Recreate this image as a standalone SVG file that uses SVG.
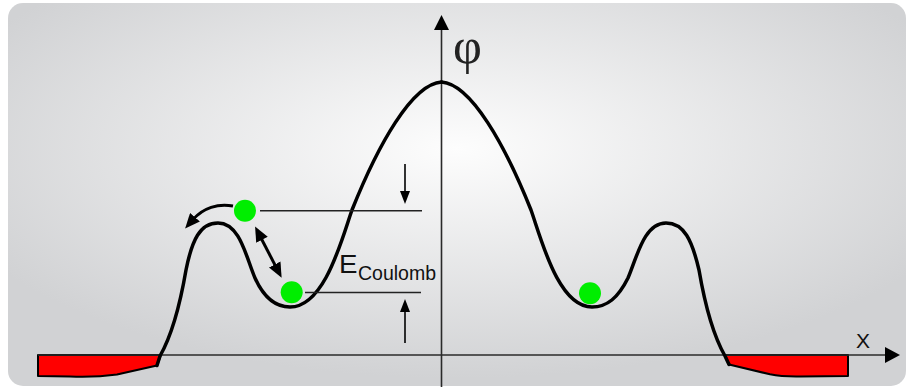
<svg xmlns="http://www.w3.org/2000/svg" width="907" height="387" viewBox="0 0 907 387">
  <style>
    .curve{fill:none;stroke:#000;stroke-width:3.5;stroke-linejoin:round;stroke-linecap:round}
    .axis{fill:none;stroke:#2a2a2a;stroke-width:1.6}
    .lvl{fill:none;stroke:#222;stroke-width:1.6}
    .thick{fill:none;stroke:#000;stroke-width:3}
    .thin{fill:none;stroke:#000;stroke-width:1.6}
    .red{fill:#ff0000;stroke:#000;stroke-width:2;stroke-linejoin:round}
    .ball{fill:#00ee00}
    .lbl{font-family:"Liberation Sans",Arial,sans-serif;fill:#111}
  </style>
  <defs>
    <radialGradient id="bg" cx="0.5" cy="0.38" r="0.6">
      <stop offset="0" stop-color="#fdfdfd"/>
      <stop offset="1" stop-color="#d1d2d4"/>
    </radialGradient>
    <marker id="ah" markerUnits="userSpaceOnUse" markerWidth="15" markerHeight="13" viewBox="0 0 15 13" refX="3" refY="6.5" orient="auto-start-reverse">
      <path d="M0,0 L15,6.5 L0,13 Z" fill="#000"/>
    </marker>
    <marker id="ahs" markerUnits="userSpaceOnUse" markerWidth="13" markerHeight="10" viewBox="0 0 13 10" refX="2" refY="5" orient="auto">
      <path d="M0,0 L13,5 L0,10 Z" fill="#000"/>
    </marker>
  </defs>

  <rect id="background" x="8" y="3" width="898" height="383" rx="15" fill="url(#bg)"/>

  <g id="red-left">
    <path class="red" d="M38,355 L161,355 L157,365.5 L117,374.5 Q95,377.5 70,376.5 L38,376 Z"/>
  </g>
  <g id="red-right">
    <path class="red" d="M725,355 L848,355 L848,376 L800,376.5 Q782,376.8 770,374.3 L729,364.5 Z"/>
  </g>

  <g id="axes">
    <line class="axis" x1="38" y1="355" x2="887" y2="355"/>
    <path d="M885,347 L900,355 L885,363 Z" fill="#000"/>
    <line class="axis" x1="441.5" y1="387" x2="441.5" y2="28"/>
    <path d="M434,30 L441.5,15 L449,30 Z" fill="#000"/>
  </g>

  <g id="potential">
    <path class="curve" d="M441.5,82 C412,84 378,145 352,210 C342,238 325,307 290,307 C275,307 264,298 255,278 C246,257 240,223 218,223 C200,223 192,240 186,270 C180,305 172,335 160,356 L157,365.5"/>
    <path class="curve" d="M441.5,82 C471,84 505,145 531,210 C541,238 558,307 592,307 C607,307 618,298 628,278 C637,257 644,223 666,223 C684,223 692,240 699,270 C705,305 713,335 725,356 L729,364.5"/>
  </g>

  <g id="connectors">
    <line class="lvl" x1="260" y1="210.7" x2="422" y2="210.7"/>
    <line class="lvl" x1="305" y1="292.5" x2="421" y2="292.5"/>
    <line class="thin" x1="405" y1="164" x2="405" y2="193" marker-end="url(#ahs)"/>
    <line class="thin" x1="405" y1="343" x2="405" y2="310" marker-end="url(#ahs)"/>
    <path class="thick" d="M233,206 C218,203 203,208 193,219.5" marker-end="url(#ah)"/>
    <line class="thick" x1="260.6" y1="237.2" x2="276.1" y2="267.1" marker-start="url(#ah)" marker-end="url(#ah)"/>
  </g>

  <g id="ball-upper"><circle class="ball" cx="245" cy="210.7" r="11"/></g>
  <g id="ball-lower"><circle class="ball" cx="291.7" cy="292.3" r="11"/></g>
  <g id="ball-right"><circle class="ball" cx="590" cy="293.3" r="11"/></g>

  <g id="labels">
    <text class="lbl" x="339" y="273" font-size="25" textLength="18.5" lengthAdjust="spacingAndGlyphs">E</text>
    <text class="lbl" x="358" y="280" font-size="19.5">Coulomb</text>
    <text x="453" y="63" font-family="Liberation Serif,serif" font-size="50" fill="#222">φ</text>
    <text class="lbl" x="856" y="348" font-size="21" fill="#333">X</text>
  </g>
</svg>
